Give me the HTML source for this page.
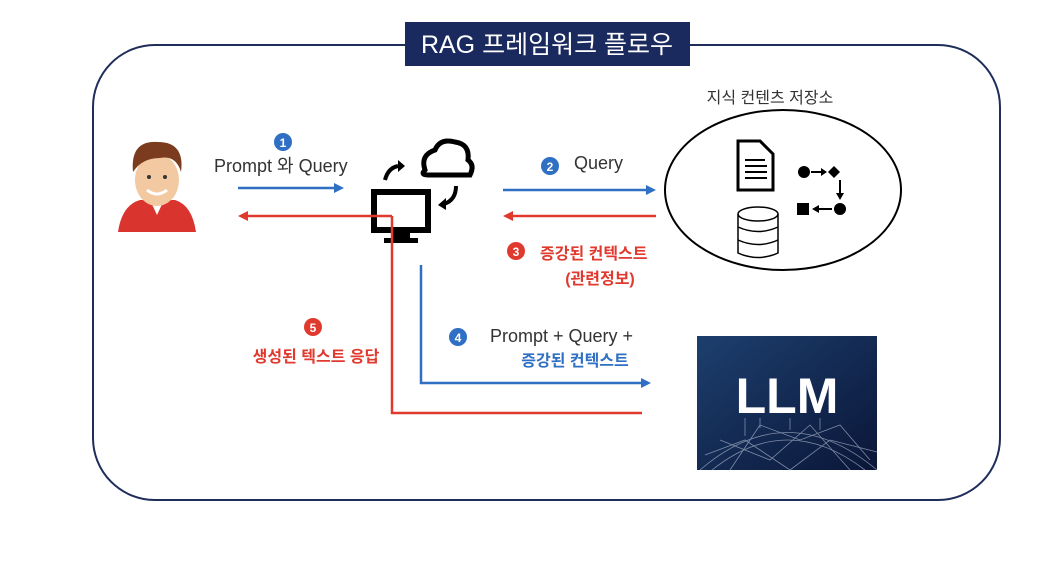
<!DOCTYPE html>
<html><head><meta charset="utf-8"><style>
body{margin:0;width:1050px;height:556px;background:#fff;overflow:hidden;font-family:"Liberation Sans","Noto Sans CJK KR",sans-serif}
</style></head><body>
<svg width="1050" height="556" viewBox="0 0 1050 556" xmlns="http://www.w3.org/2000/svg" font-family="Liberation Sans, Noto Sans CJK KR, sans-serif">
<defs>
<linearGradient id="g" x1="0" y1="0" x2="1" y2="1"><stop offset="0" stop-color="#1d3f6e"/><stop offset="1" stop-color="#0a1638"/></linearGradient>
</defs>
<rect x="93" y="45" width="907" height="455" rx="62" fill="none" stroke="#1f2d5a" stroke-width="2"/>
<rect x="405" y="22" width="285" height="44" fill="#1a2a5e"/>
<text x="547" y="53" text-anchor="middle" fill="#fff" font-size="25">RAG 프레임워크 플로우</text>

<!-- person -->
<path d="M118 232 Q122 205 140 200 L175 200 Q192 205 196 232 Z" fill="#d9352e"/>
<path d="M150 200 L157 215 L164 200 Z" fill="#fff"/>
<ellipse cx="157" cy="180" rx="22" ry="26" fill="#f2c9a0"/>
<path d="M133 172 Q130 140 158 142 Q185 142 181 172 Q176 155 160 158 Q142 158 133 172 Z" fill="#7a3b1e"/>
<path d="M147 190 Q157 198 167 190" stroke="#fff" stroke-width="3" fill="none"/>
<circle cx="149" cy="177" r="2" fill="#333"/><circle cx="165" cy="177" r="2" fill="#333"/>

<circle cx="283" cy="142" r="9" fill="#2f6fc4"/><text x="283" y="147" text-anchor="middle" fill="#fff" font-size="12" font-weight="bold">1</text>
<text x="214" y="172" fill="#333" font-size="18">Prompt 와 Query</text>
<line x1="238" y1="188" x2="336" y2="188" stroke="#2f6fc4" stroke-width="2.5"/><path d="M344 188 L334 183 L334 193Z" fill="#2f6fc4"/>

<!-- computer -->
<rect x="374" y="192" width="54" height="38" fill="none" stroke="#000" stroke-width="6"/>
<rect x="392" y="232" width="18" height="8" fill="#000"/><rect x="384" y="238" width="34" height="5" fill="#000"/>
<path d="M425 170 Q420 155 435 150 Q440 138 455 142 Q470 144 468 160 Q475 165 470 175 L428 175 Q420 175 425 170Z" fill="none" stroke="#000" stroke-width="5"/>
<path d="M385 180 Q388 168 398 166" fill="none" stroke="#000" stroke-width="4"/><path d="M398 160 L405 166 L398 172Z" fill="#000"/>
<path d="M456 186 Q456 200 444 204" fill="none" stroke="#000" stroke-width="4"/><path d="M446 198 L438 205 L446 210Z" fill="#000"/>

<!-- red lines -->
<polyline points="392,216 392,413 642,413" fill="none" stroke="#e03a2f" stroke-width="2.5"/>
<line x1="392" y1="216" x2="246" y2="216" stroke="#e03a2f" stroke-width="2.5"/><path d="M238 216 L248 211 L248 221Z" fill="#e03a2f"/>
<!-- blue L -->
<polyline points="421,265 421,383 642,383" fill="none" stroke="#2f6fc4" stroke-width="2.5"/><path d="M651 383 L641 378 L641 388Z" fill="#2f6fc4"/>

<circle cx="550" cy="166" r="9" fill="#2f6fc4"/><text x="550" y="171" text-anchor="middle" fill="#fff" font-size="12" font-weight="bold">2</text>
<text x="574" y="169" fill="#333" font-size="18">Query</text>
<line x1="503" y1="190" x2="648" y2="190" stroke="#2f6fc4" stroke-width="2.5"/><path d="M656 190 L646 185 L646 195Z" fill="#2f6fc4"/>
<line x1="656" y1="216" x2="512" y2="216" stroke="#e03a2f" stroke-width="2.5"/><path d="M503 216 L513 211 L513 221Z" fill="#e03a2f"/>

<circle cx="516" cy="251" r="9" fill="#e03a2f"/><text x="516" y="256" text-anchor="middle" fill="#fff" font-size="12" font-weight="bold">3</text>
<text x="540" y="259" fill="#e03a2f" font-size="16" font-weight="bold">증강된 컨텍스트</text>
<text x="600" y="284" text-anchor="middle" fill="#e03a2f" font-size="16" font-weight="bold">(관련정보)</text>

<text x="770" y="103" text-anchor="middle" fill="#333" font-size="16">지식 컨텐츠 저장소</text>
<ellipse cx="783" cy="190" rx="118" ry="80" fill="none" stroke="#000" stroke-width="2"/>
<path d="M738 141 L760 141 L773 154 L773 190 L738 190Z" fill="none" stroke="#000" stroke-width="3"/>
<g stroke="#000" stroke-width="2"><line x1="745" y1="160" x2="765" y2="160"/><line x1="745" y1="166" x2="767" y2="166"/><line x1="745" y1="172" x2="767" y2="172"/><line x1="745" y1="178" x2="767" y2="178"/></g>
<g fill="none" stroke="#000" stroke-width="1.5"><ellipse cx="758" cy="214" rx="20" ry="7"/><path d="M738 214 L738 253 Q758 262 778 253 L778 214"/><path d="M738 227 Q758 236 778 227"/><path d="M738 240 Q758 249 778 240"/></g>
<circle cx="804" cy="172" r="6" fill="#000"/><line x1="811" y1="172" x2="822" y2="172" stroke="#000" stroke-width="2"/><path d="M827 172 L821 168 L821 176Z" fill="#000"/><path d="M834 166 L840 172 L834 178 L828 172Z" fill="#000"/>
<line x1="840" y1="180" x2="840" y2="194" stroke="#000" stroke-width="2"/><path d="M840 200 L836 193 L844 193Z" fill="#000"/>
<circle cx="840" cy="209" r="6" fill="#000"/><line x1="818" y1="209" x2="832" y2="209" stroke="#000" stroke-width="2"/><path d="M812 209 L819 205 L819 213Z" fill="#000"/><rect x="797" y="203" width="12" height="12" fill="#000"/>

<circle cx="458" cy="337" r="9" fill="#2f6fc4"/><text x="458" y="342" text-anchor="middle" fill="#fff" font-size="12" font-weight="bold">4</text>
<text x="490" y="342" fill="#333" font-size="18">Prompt + Query +</text>
<text x="575" y="366" text-anchor="middle" fill="#2f6fc4" font-size="16" font-weight="bold">증강된 컨텍스트</text>

<circle cx="313" cy="327" r="9" fill="#e03a2f"/><text x="313" y="332" text-anchor="middle" fill="#fff" font-size="12" font-weight="bold">5</text>
<text x="316" y="362" text-anchor="middle" fill="#e03a2f" font-size="16" font-weight="bold">생성된 텍스트 응답</text>

<rect x="697" y="336" width="180" height="134" fill="url(#g)"/>
<g stroke="#9aa5bd" stroke-width="0.8" fill="none" opacity="0.8">
<path d="M700 470 Q787 395 877 470"/><path d="M712 470 Q787 410 865 470"/><path d="M730 470 L760 425 L800 440 L840 425 L870 460"/><path d="M705 455 L745 440 L790 470 L830 440 L877 452"/><path d="M720 440 L770 460 L810 425 L850 470"/>
<line x1="745" y1="418" x2="745" y2="436"/><line x1="760" y1="418" x2="760" y2="428"/><line x1="790" y1="418" x2="790" y2="430"/><line x1="820" y1="418" x2="820" y2="430"/>
</g>
<text x="787" y="413" text-anchor="middle" fill="#fff" font-size="50" font-weight="bold">LLM</text>
</svg>
</body></html>
